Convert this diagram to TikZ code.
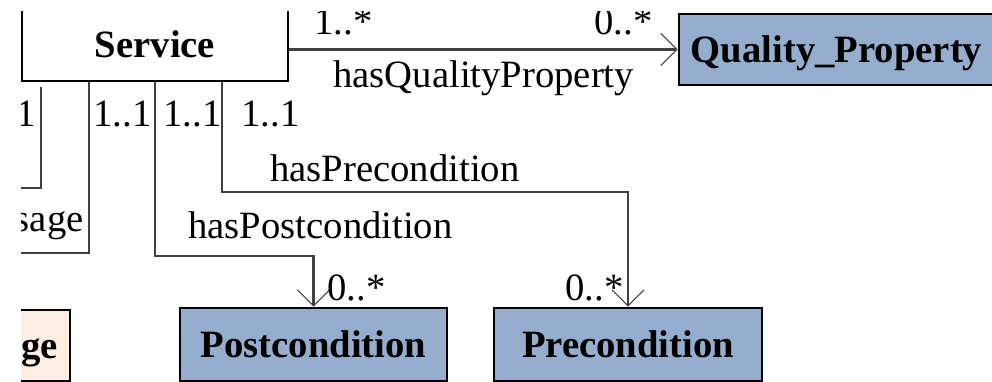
\documentclass[tikz,border=0pt]{standalone}
\usepackage{fontspec}
\setmainfont{Liberation Serif}
\usetikzlibrary{arrows.meta}
\definecolor{classblue}{RGB}{149,174,205}
\definecolor{classpeach}{RGB}{253,238,227}

\begin{document}
\begin{tikzpicture}[x=0.2mm, y=-0.2mm,
    every node/.style={font=\fontsize{22}{26}\selectfont, inner sep=0pt},
    class/.style={draw=black, line width=1.6pt, fill=classblue,
      font=\fontsize{22}{26}\selectfont\bfseries, text height=15pt, text depth=0pt},
    assoc/.style={draw=black!75, line width=1.2pt},
    nav/.style={assoc, -{Straight Barb[length=3.2mm, width=6.4mm, line width=0.6pt]}},
    mult/.style={anchor=base west},
  ]
  \useasboundingbox (0,0) rectangle (992,382);
  \clip (21,12) rectangle (992,382);

  % classes
  \node [class, fill=white, minimum width=53.2mm, minimum height=14.8mm] (service) at (155,44) {Service};
  \node [class, minimum width=63mm, minimum height=14.2mm] (quality) at (836.5,49.5) {Quality\_Property};
  \node [class, minimum width=53.4mm, minimum height=14.6mm] (post) at (313.5,344.5) {Postcondition};
  \node [class, minimum width=53.6mm, minimum height=14.6mm] (pre) at (628,344.5) {Precondition};
  \node [class, fill=classpeach, minimum width=12.2mm, minimum height=14.2mm] (message) at (39.5,345.5) {ge};

  % free ends, outside the cut
  \coordinate (msgend) at (0,253);
  \coordinate (leftA) at (41,87);
  \coordinate (leftB) at (0,188);

  % associations
  \draw [assoc] (leftA) |- (leftB);
  \draw [assoc] ([xshift=-13.2mm]service.south) |- (msgend);
  \draw [nav] (service.south) -- ++(0,174) -| (post.north);
  \draw [nav] ([xshift=13.4mm]service.south) -- ++(0,110) -| (pre.north);
  \draw [nav] (service.east |- quality.west) -- (quality.west);

  % add labels
  \node [mult] (qsrc) at (314,35) {1..*};
  \node [mult] (qdst) at (594,35) {0..*};
  \node [mult] (qname) at (333,88) {hasQualityProperty};
  \node [anchor=base east] (lsrc) at (36,127) {1};
  \node [mult] (msrc) at (93,127) {1..1};
  \node [mult] (psrc) at (163,127) {1..1};
  \node [mult] (rsrc) at (241,127) {1..1};
  \node [mult] (rname) at (270,182) {hasPrecondition};
  \node [anchor=base east] (mname) at (84,232) {sage};
  \node [mult] (pname) at (188,238) {hasPostcondition};
  \node [mult] (pdst) at (327,300) {0..*};
  \node [mult] (rdst) at (565,300) {0..*};
\end{tikzpicture}
\end{document}
